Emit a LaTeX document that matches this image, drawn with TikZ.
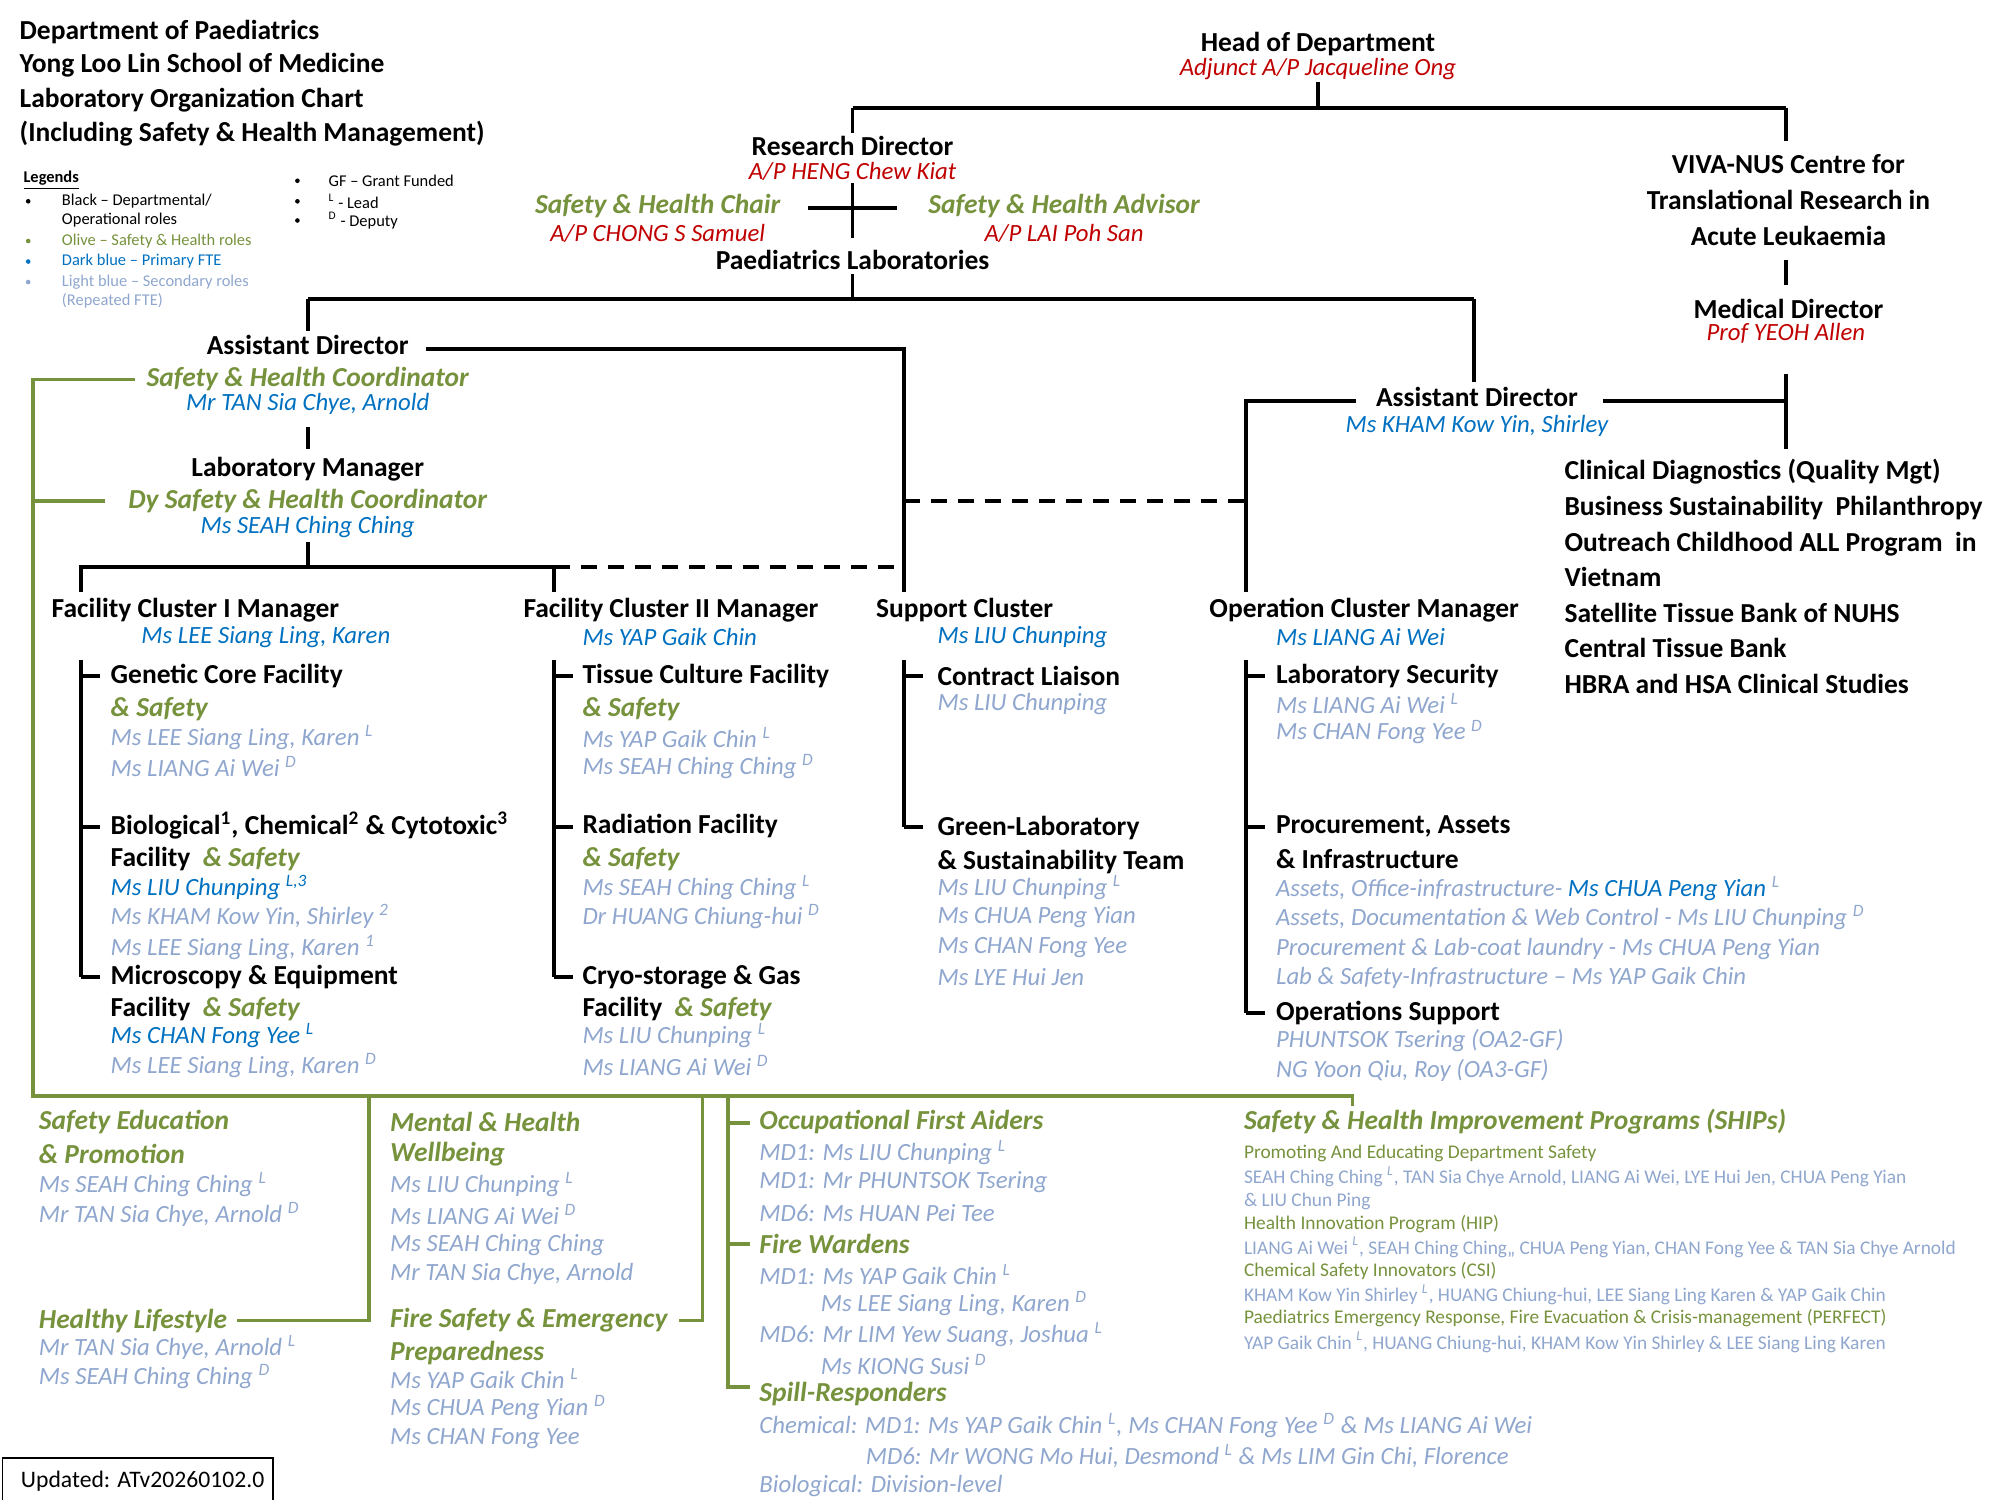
\documentclass[tikz,border=0pt]{standalone}
\usepackage{fontspec}
\setmainfont{Carlito}
\usepackage{xcolor}
\definecolor{olive}{RGB}{118,146,60}
\definecolor{dblue}{RGB}{0,112,192}
\definecolor{lblue}{RGB}{143,166,206}
\definecolor{dred}{RGB}{192,0,0}
\tikzset{
  t/.style={inner sep=0pt, anchor=west},
  hd/.style={t, font=\fontsize{12.2}{15}\selectfont\bfseries},
  sh/.style={t, text=olive, font=\fontsize{12.2}{15}\selectfont\bfseries\itshape},
  nm/.style={t, text=dblue, font=\fontsize{11}{13}\selectfont\itshape},
  sc/.style={t, text=lblue, font=\fontsize{11}{13}\selectfont\itshape},
  rd/.style={t, text=dred, font=\fontsize{11}{13}\selectfont\itshape},
  tiny/.style={t, font=\fontsize{7.3}{9}\selectfont},
  ship/.style={t, font=\fontsize{8.6}{10}\selectfont},
  bl/.style={line width=1.7pt},
  ol/.style={line width=1.7pt, draw=olive},
  dsh/.style={line width=1.7pt, dash pattern=on 7pt off 5pt}
}
\newcommand{\Ls}{\textsuperscript{L}}
\newcommand{\Ds}{\textsuperscript{D}}
\begin{document}
\begin{tikzpicture}[x=0.02cm, y=-0.02cm]
  \useasboundingbox (0,0) rectangle (1560,1170);
  % title and legend
  \node[hd] (ti1) at (15,25) {Department of Paediatrics};
  \node[hd] (ti2) at (15,51) {Yong Loo Lin School of Medicine};
  \node[hd] (ti3) at (15,78) {Laboratory Organization Chart};
  \node[hd] (ti4) at (15,104) {(Including Safety \& Health Management)};
  \node[tiny, font=\fontsize{7.3}{9}\selectfont\bfseries] (lg) at (18,141) {\underline{Legends}};
  \node[tiny] (lg1) at (48,157) {Black -- Departmental/};
  \node[tiny] (lg2) at (48,172) {Operational roles};
  \node[tiny, text=olive] (lg3) at (48,188) {Olive -- Safety \& Health roles};
  \node[tiny, text=dblue] (lg4) at (48,204) {Dark blue -- Primary FTE};
  \node[tiny, text=lblue] (lg5) at (48,220) {Light blue -- Secondary roles};
  \node[tiny, text=lblue] (lg6) at (48,235) {(Repeated FTE)};
  \node[tiny] (lg7) at (256,141) {GF -- Grant Funded};
  \node[tiny] (lg8) at (256,157) {\textsuperscript{L} - Lead};
  \node[tiny] (lg9) at (256,172) {\textsuperscript{D} - Deputy};
  \foreach \y/\c in {157/black,188/olive,204/dblue,220/lblue}
    \fill[\c] (22,\y) circle (1.8);
  \foreach \y in {141,157,172}
    \fill (232,\y) circle (1.8);

  % top of the chart
  \node[hd, anchor=center] (hod) at (1028,34) {Head of Department};
  \node[rd, anchor=center] (hodn) at (1028,54) {Adjunct A/P Jacqueline Ong};
  \node[hd, anchor=center] (rdir) at (665,114) {Research Director};
  \node[rd, anchor=center] (rdirn) at (665,134) {A/P HENG Chew Kiat};
  \node[sh, anchor=center] (chair) at (513,161) {Safety \& Health Chair};
  \node[rd, anchor=center] (chairn) at (513,182) {A/P CHONG S Samuel};
  \node[sh, anchor=center] (adv) at (830,161) {Safety \& Health Advisor};
  \node[rd, anchor=center] (advn) at (830,182) {A/P LAI Poh San};
  \node[hd, anchor=center] (plab) at (665,203) {Paediatrics Laboratories};
  \node[hd, anchor=center] (viva1) at (1395,128) {VIVA-NUS Centre for};
  \node[hd, anchor=center] (viva2) at (1395,156) {Translational Research in};
  \node[hd, anchor=center] (viva3) at (1395,184) {Acute Leukaemia};
  \node[hd, anchor=center] (mdir) at (1395,241) {Medical Director};
  \node[rd, anchor=center] (mdirn) at (1393,260) {Prof YEOH Allen};
  \node[hd, anchor=center] (adr) at (1152,310) {Assistant Director};
  \node[nm, anchor=center] (adrn) at (1152,332) {Ms KHAM Kow Yin, Shirley};
  \node[hd, align=left, anchor=north west, font=\fontsize{12.2}{15.8}\selectfont\bfseries] (clin) at (1220,358)
    {Clinical Diagnostics (Quality Mgt)\\Business Sustainability\ \ Philanthropy\\Outreach Childhood ALL Program\ \ in\\Vietnam\\Satellite Tissue Bank of NUHS\\Central Tissue Bank\\HBRA and HSA Clinical Studies};

  \draw[bl] (1028,64) -- (1028,84) (665,84) -- (1393,84) (665,84) -- (665,104) (1393,84) -- (1393,110);
  \draw[bl] (665,143) -- (665,186) (630,162) -- (700,162);
  \draw[bl] (665,214) -- (665,233) (240,233) -- (1150,233) (240,233) -- (240,258) (1150,233) -- (1150,298);
  \draw[bl] (1393,203) -- (1393,222) (1393,292) -- (1393,350) (1250,313) -- (1393,313);
  \draw[bl] (1058,313) -- (972,313) -- (972,462);

  % left management line
  \node[hd, anchor=center] (adl) at (240,269) {Assistant Director};
  \node[sh, anchor=center] (shc) at (240,296) {Safety \& Health Coordinator};
  \node[nm, anchor=center] (shcn) at (240,315) {Mr TAN Sia Chye, Arnold};
  \node[hd, anchor=center] (lmgr) at (240,366) {Laboratory Manager};
  \node[sh, anchor=center] (dshc) at (240,391) {Dy Safety \& Health Coordinator};
  \node[nm, anchor=center] (dshcn) at (240,411) {Ms SEAH Ching Ching};
  \draw[bl] (332,272) -- (705,272) -- (705,462);
  \draw[dsh] (705,391) -- (972,391) (432,442) -- (705,442);
  \draw[bl] (240,333) -- (240,350) (240,423) -- (240,442) (63,462) -- (63,442) -- (432,442) -- (432,462);

  % clusters
  \node[hd] (fc1) at (40,476) {Facility Cluster I Manager};
  \node[nm] (fc1n) at (110,497) {Ms LEE Siang Ling, Karen};
  \node[hd] (fc2) at (408,476) {Facility Cluster II Manager};
  \node[nm] (fc2n) at (454,497) {Ms YAP Gaik Chin};
  \node[hd] (sup) at (683,476) {Support Cluster};
  \node[nm] (supn) at (731,497) {Ms LIU Chunping};
  \node[hd] (opc) at (943,476) {Operation Cluster Manager};
  \node[nm] (opcn) at (995,497) {Ms LIANG Ai Wei};
  \draw[bl] (63,515) -- (63,762) (432,515) -- (432,762) (705,515) -- (705,645) (972,515) -- (972,790);
  \foreach \x in {63,432}
    \foreach \y in {527,645,762}
      \draw[bl] (\x,\y) -- (\x+15,\y);
  \foreach \y in {527,645} \draw[bl] (705,\y) -- (720,\y);
  \foreach \y in {527,645,790} \draw[bl] (972,\y) -- (987,\y);

  % cluster I
  \node[hd] (gen) at (86,527) {Genetic Core Facility};
  \node[sh] (gens) at (86,553) {\& Safety};
  \node[sc] (gen1) at (86,575) {Ms LEE Siang Ling, Karen \Ls};
  \node[sc] (gen2) at (86,598) {Ms LIANG Ai Wei \Ds};
  \node[hd] (bio) at (86,644) {Biological\textsuperscript{1}, Chemical\textsuperscript{2} \& Cytotoxic\textsuperscript{3}};
  \node[hd] (bios) at (86,670) {Facility {\color{olive}\itshape\ \& Safety}};
  \node[nm] (bio1) at (86,692) {Ms LIU Chunping \textsuperscript{L,3}};
  \node[sc] (bio2) at (86,715) {Ms KHAM Kow Yin, Shirley \textsuperscript{2}};
  \node[sc] (bio3) at (86,739) {Ms LEE Siang Ling, Karen \textsuperscript{1}};
  \node[hd] (mic) at (86,762) {Microscopy \& Equipment};
  \node[hd] (mics) at (86,787) {Facility {\color{olive}\itshape\ \& Safety}};
  \node[nm] (mic1) at (86,808) {Ms CHAN Fong Yee \Ls};
  \node[sc] (mic2) at (86,831) {Ms LEE Siang Ling, Karen \Ds};

  % cluster II
  \node[hd] (tis) at (454,527) {Tissue Culture Facility};
  \node[sh] (tiss) at (454,553) {\& Safety};
  \node[sc] (tis1) at (454,575) {Ms YAP Gaik Chin \Ls};
  \node[sc] (tis2) at (454,598) {Ms SEAH Ching Ching \Ds};
  \node[hd] (rad) at (454,644) {Radiation Facility};
  \node[sh] (rads) at (454,670) {\& Safety};
  \node[sc] (rad1) at (454,692) {Ms SEAH Ching Ching \Ls};
  \node[sc] (rad2) at (454,715) {Dr HUANG Chiung-hui \Ds};
  \node[hd] (cry) at (454,762) {Cryo-storage \& Gas};
  \node[hd] (crys) at (454,787) {Facility {\color{olive}\itshape\ \& Safety}};
  \node[sc] (cry1) at (454,808) {Ms LIU Chunping \Ls};
  \node[sc] (cry2) at (454,831) {Ms LIANG Ai Wei \Ds};

  % support cluster
  \node[hd] (con) at (731,527) {Contract Liaison};
  \node[sc] (con1) at (731,549) {Ms LIU Chunping};
  \node[hd] (grn) at (731,646) {Green-Laboratory};
  \node[hd] (grns) at (731,672) {\& Sustainability Team};
  \node[sc] (grn1) at (731,692) {Ms LIU Chunping \Ls};
  \node[sc] (grn2) at (731,715) {Ms CHUA Peng Yian};
  \node[sc] (grn3) at (731,739) {Ms CHAN Fong Yee};
  \node[sc] (grn4) at (731,762) {Ms LYE Hui Jen};

  % operation cluster
  \node[hd] (sec) at (995,527) {Laboratory Security};
  \node[sc] (sec1) at (995,549) {Ms LIANG Ai Wei \Ls};
  \node[sc] (sec2) at (995,571) {Ms CHAN Fong Yee \Ds};
  \node[hd] (pro) at (995,645) {Procurement, Assets};
  \node[hd] (pros) at (995,670) {\& Infrastructure};
  \node[sc] (pro1) at (995,693) {Assets, Office-infrastructure- {\color{dblue}Ms CHUA Peng Yian} \Ls};
  \node[sc] (pro2) at (995,716) {Assets, Documentation \& Web Control - Ms LIU Chunping \Ds};
  \node[sc] (pro3) at (995,740) {Procurement \& Lab-coat laundry - Ms CHUA Peng Yian};
  \node[sc] (pro4) at (995,763) {Lab \& Safety-Infrastructure -- Ms YAP Gaik Chin};
  \node[hd] (ops) at (995,790) {Operations Support};
  \node[sc] (ops1) at (995,812) {PHUNTSOK Tsering (OA2-GF)};
  \node[sc] (ops2) at (995,835) {NG Yoon Qiu, Roy (OA3-GF)};

  % safety and health branch
  \draw[ol] (105,296) -- (26,296) -- (26,855) -- (1055,855) -- (1055,863) (26,391) -- (82,391);
  \draw[ol] (288,855) -- (288,1030) -- (185,1030) (548,855) -- (548,1030) -- (530,1030);
  \draw[ol] (568,855) -- (568,1082) -- (585,1082) (568,876) -- (585,876) (568,970) -- (585,970);

  \node[sh] (edu) at (30,875) {Safety Education};
  \node[sh] (edus) at (30,900) {\& Promotion};
  \node[sc] (edu1) at (30,924) {Ms SEAH Ching Ching \Ls};
  \node[sc] (edu2) at (30,947) {Mr TAN Sia Chye, Arnold \Ds};
  \node[sh] (hlt) at (30,1030) {Healthy Lifestyle};
  \node[sc] (hlt1) at (30,1051) {Mr TAN Sia Chye, Arnold \Ls};
  \node[sc] (hlt2) at (30,1074) {Ms SEAH Ching Ching \Ds};
  \node[sh] (men) at (304,875) {Mental \& Health};
  \node[sh] (mens) at (304,900) {Wellbeing};
  \node[sc] (men1) at (304,924) {Ms LIU Chunping \Ls};
  \node[sc] (men2) at (304,947) {Ms LIANG Ai Wei \Ds};
  \node[sc] (men3) at (304,971) {Ms SEAH Ching Ching};
  \node[sc] (men4) at (304,994) {Mr TAN Sia Chye, Arnold};
  \node[sh] (fsf) at (304,1030) {Fire Safety \& Emergency};
  \node[sh] (fsfs) at (304,1055) {Preparedness};
  \node[sc] (fsf1) at (304,1075) {Ms YAP Gaik Chin \Ls};
  \node[sc] (fsf2) at (304,1098) {Ms CHUA Peng Yian \Ds};
  \node[sc] (fsf3) at (304,1122) {Ms CHAN Fong Yee};
  \node[sh] (ofa) at (592,875) {Occupational First Aiders};
  \node[sc] (ofa1) at (592,899) {MD1: Ms LIU Chunping \Ls};
  \node[sc] (ofa2) at (592,922) {MD1: Mr PHUNTSOK Tsering};
  \node[sc] (ofa3) at (592,946) {MD6: Ms HUAN Pei Tee};
  \node[sh] (fw) at (592,970) {Fire Wardens};
  \node[sc] (fw1) at (592,994) {MD1: Ms YAP Gaik Chin \Ls};
  \node[sc] (fw2) at (640,1017) {Ms LEE Siang Ling, Karen \Ds};
  \node[sc] (fw3) at (592,1041) {MD6: Mr LIM Yew Suang, Joshua \Ls};
  \node[sc] (fw4) at (640,1064) {Ms KIONG Susi \Ds};
  \node[sh] (spl) at (592,1087) {Spill-Responders};
  \node[sc] (spl1) at (592,1112) {Chemical: MD1: Ms YAP Gaik Chin \Ls, Ms CHAN Fong Yee \Ds\ \& Ms LIANG Ai Wei};
  \node[sc] (spl2) at (675,1136) {MD6: Mr WONG Mo Hui, Desmond \Ls\ \& Ms LIM Gin Chi, Florence};
  \node[sc] (spl3) at (592,1159) {Biological: Division-level};

  \node[sh] (ships) at (970,875) {Safety \& Health Improvement Programs (SHIPs)};
  \node[ship, text=olive] (sp1) at (970,900) {Promoting And Educating Department Safety};
  \node[ship, text=lblue] (sp1a) at (970,918) {SEAH Ching Ching \textsuperscript{\itshape L}, TAN Sia Chye Arnold, LIANG Ai Wei, LYE Hui Jen, CHUA Peng Yian};
  \node[ship, text=lblue] (sp1b) at (970,937) {\& LIU Chun Ping};
  \node[ship, text=olive] (sp2) at (970,955) {Health Innovation Program (HIP)};
  \node[ship, text=lblue] (sp2a) at (970,973) {LIANG Ai Wei \textsuperscript{\itshape L}, SEAH Ching Ching,, CHUA Peng Yian, CHAN Fong Yee \& TAN Sia Chye Arnold};
  \node[ship, text=olive] (sp3) at (970,991) {Chemical Safety Innovators (CSI)};
  \node[ship, text=lblue] (sp3a) at (970,1010) {KHAM Kow Yin Shirley \textsuperscript{\itshape L}, HUANG Chiung-hui, LEE Siang Ling Karen \& YAP Gaik Chin};
  \node[ship, text=olive] (sp4) at (970,1028) {Paediatrics Emergency Response, Fire Evacuation \& Crisis-management (PERFECT)};
  \node[ship, text=lblue] (sp4a) at (970,1047) {YAP Gaik Chin \textsuperscript{\itshape L}, HUANG Chiung-hui, KHAM Kow Yin Shirley \& LEE Siang Ling Karen};

  \draw[line width=0.8pt] (2,1137) rectangle (213,1173);
  \node[t, font=\fontsize{10.5}{12}\selectfont] (upd) at (16,1155) {Updated: ATv20260102.0};
\end{tikzpicture}
\end{document}
